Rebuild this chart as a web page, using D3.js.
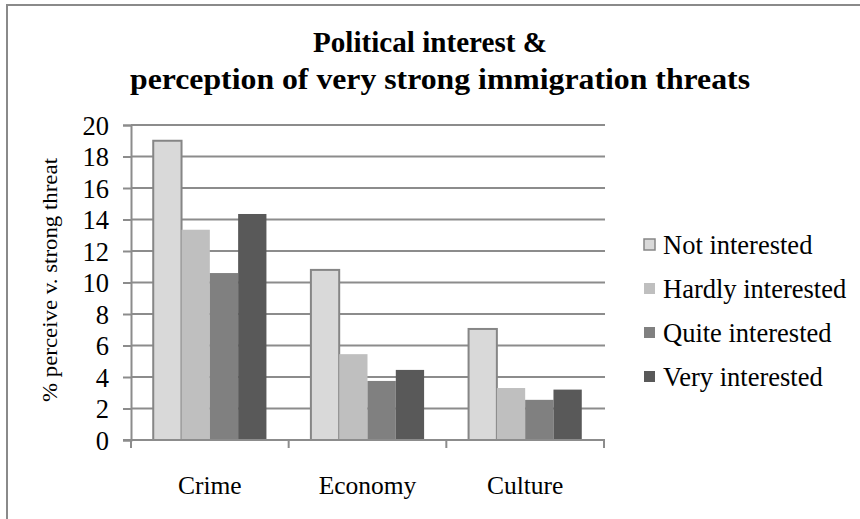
<!DOCTYPE html>
<html>
<head>
<meta charset="utf-8">
<script src="https://cdn.jsdelivr.net/npm/d3@7"></script>
<style>
  html, body { margin: 0; padding: 0; background: #fff; }
  svg text { font-family: "Liberation Serif", serif; }
</style>
</head>
<body>
<svg id="chart" width="860" height="519"></svg>
<script>
// Share of respondents perceiving a very strong immigration threat, by political interest
const categories = ["Crime", "Economy", "Culture"];
const seriesNames = ["Not interested", "Hardly interested", "Quite interested", "Very interested"];
const notInterested    = [19.0, 10.8, 7.05];
const hardlyInterested = [13.35, 5.45, 3.3];
const quiteInterested  = [10.6, 3.75, 2.55];
const veryInterested   = [14.35, 4.45, 3.2];
const yTicks = [0, 2, 4, 6, 8, 10, 12, 14, 16, 18, 20];

const seriesValues = [notInterested, hardlyInterested, quiteInterested, veryInterested];
const fills = ["#d9d9d9", "#bfbfbf", "#808080", "#595959"];
const strokes = ["#868686", "none", "none", "none"];
const SERIF = "Liberation Serif";

const svg = d3.select("#chart");
const plot = { left: 131, right: 604, top: 125, bottom: 440 };

// Outer frame (runs past the right and bottom edges of the page)
svg.append("rect")
  .attr("x", 7).attr("y", 5).attr("width", 900).attr("height", 560)
  .attr("fill", "none").attr("stroke", "#8a8a8a").attr("stroke-width", 2);

// Title
const title = svg.append("g").attr("font-family", SERIF)
  .attr("font-weight", "bold").attr("font-size", 30).attr("fill", "#000");
title.append("text").attr("x", 430).attr("y", 52).attr("text-anchor", "middle")
  .attr("textLength", 234).attr("lengthAdjust", "spacingAndGlyphs")
  .text("Political interest &");
title.append("text").attr("x", 440).attr("y", 89).attr("text-anchor", "middle")
  .attr("textLength", 620).attr("lengthAdjust", "spacingAndGlyphs")
  .text("perception of very strong immigration threats");

const y = d3.scaleLinear().domain([0, 20]).range([plot.bottom, plot.top]);
const x0 = d3.scaleBand().domain(categories).range([plot.left, plot.right]).padding(0);
const bw = x0.bandwidth();
const gap = bw * 0.141;
const x1 = d3.scaleBand().domain(seriesNames).range([gap, bw - gap]).padding(0);

// Horizontal gridlines
svg.append("g").selectAll("line").data(yTicks.filter(d => d > 0)).join("line")
  .attr("x1", plot.left).attr("x2", plot.right + 1)
  .attr("y1", d => y(d)).attr("y2", d => y(d))
  .attr("stroke", "#8c8c8c").attr("stroke-width", 2);

// Y axis
const yAxis = svg.append("g").attr("transform", `translate(${plot.left},0)`)
  .call(d3.axisLeft(y).tickValues(yTicks).tickSize(8).tickPadding(14).tickFormat(d3.format("d")))
  .attr("font-family", SERIF).attr("font-size", 26.5);
yAxis.select(".domain").attr("stroke", "#8c8c8c").attr("stroke-width", 2);
yAxis.selectAll(".tick line").attr("stroke", "#8c8c8c").attr("stroke-width", 2);
yAxis.selectAll(".tick text").attr("fill", "#000").attr("dy", "0.34em");

// Bars
const groups = svg.append("g").selectAll("g").data(categories).join("g")
  .attr("transform", d => `translate(${x0(d)},0)`);
groups.selectAll("rect")
  .data((c, ci) => seriesNames.map((s, si) => ({ s, si, v: seriesValues[si][ci] })))
  .join("rect")
  .attr("x", d => x1(d.s))
  .attr("y", d => y(d.v))
  .attr("width", x1.bandwidth())
  .attr("height", d => y(0) - y(d.v))
  .attr("fill", d => fills[d.si])
  .attr("stroke", d => strokes[d.si])
  .attr("stroke-width", 2);

// X axis
const xAxis = svg.append("g").attr("transform", `translate(0,${plot.bottom})`);
xAxis.append("line").attr("x1", plot.left - 8).attr("x2", plot.right + 1)
  .attr("stroke", "#8c8c8c").attr("stroke-width", 2);
const boundaries = categories.map(c => x0(c)).concat([plot.right]);
xAxis.selectAll("line.tk").data(boundaries).join("line").attr("class", "tk")
  .attr("x1", d => d).attr("x2", d => d).attr("y1", 0).attr("y2", 8)
  .attr("stroke", "#8c8c8c").attr("stroke-width", 2);
xAxis.selectAll("text").data(categories).join("text")
  .attr("x", d => x0(d) + bw / 2).attr("y", 54)
  .attr("text-anchor", "middle").attr("font-family", SERIF)
  .attr("font-size", 25.5).attr("fill", "#000")
  .text(d => d);

// Y axis title
svg.append("text")
  .attr("transform", "translate(57,280) rotate(-90)")
  .attr("text-anchor", "middle").attr("font-family", SERIF)
  .attr("font-size", 22).attr("fill", "#000")
  .attr("textLength", 244).attr("lengthAdjust", "spacingAndGlyphs")
  .text("% perceive v. strong threat");

// Legend
const legend = svg.append("g").attr("transform", "translate(643,245)");
const rows = legend.selectAll("g").data(seriesNames).join("g")
  .attr("transform", (d, i) => `translate(0,${i * 44})`);
rows.append("rect")
  .attr("x", 1).attr("y", -6).attr("width", 11).attr("height", 11)
  .attr("fill", (d, i) => fills[i])
  .attr("stroke", (d, i) => i === 0 ? "#868686" : "none")
  .attr("stroke-width", 1.5);
rows.append("text")
  .attr("x", 20).attr("y", 0).attr("dy", "0.35em")
  .attr("font-family", SERIF).attr("font-size", 26.5).attr("fill", "#000")
  .text(d => d);
</script>
</body>
</html>
